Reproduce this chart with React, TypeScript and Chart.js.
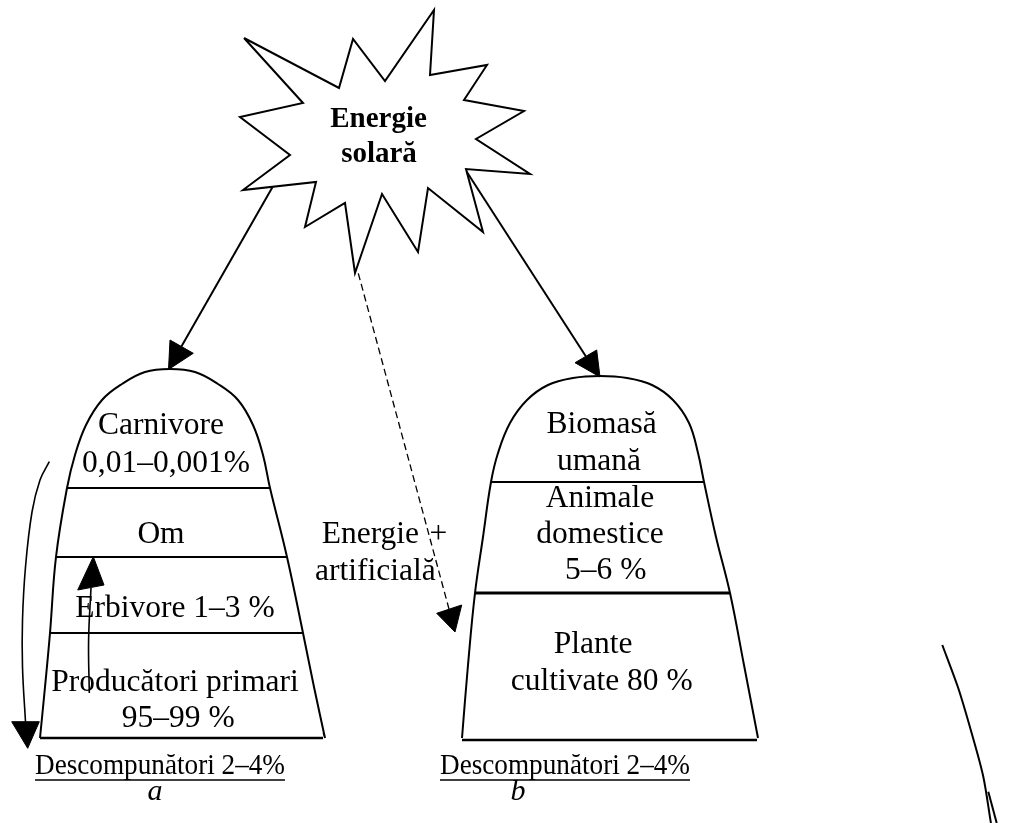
import React, { useEffect, useRef } from "react";
import { Chart, registerables } from "chart.js";

Chart.register(...registerables);

// ---------- data (diagram coordinates, y grows downward) ----------
const starX = [244, 339, 353, 385, 434, 430, 487, 464, 524, 476, 530, 466, 483, 428, 418, 382, 355, 345, 305, 316, 243, 290, 240, 303, 244];
const starY = [38, 88, 39, 81, 10, 75, 65, 100, 111, 139, 174, 169, 232, 188, 252, 194, 273, 203, 227, 182, 190, 155, 117, 103, 38];

const domeAX = [40, 45, 50, 56, 67, 75, 86, 102, 122, 145, 170, 195, 218, 238, 253, 263, 270, 287, 303, 314, 325];
const domeAY = [738, 687, 633, 557, 488, 455, 425, 400, 384, 372, 369, 372, 384, 400, 425, 455, 488, 557, 633, 687, 738];

const domeBX = [462, 468, 475, 483, 491, 498, 510, 527, 548, 573, 600, 627, 652, 673, 689, 698, 704, 716, 730, 744, 758];
const domeBY = [738, 665, 593, 537, 482, 453, 423, 400, 385, 378, 376, 378, 385, 400, 423, 453, 482, 537, 593, 665, 738];

// level separators: [x0, x1, y]
const levelsA = [[67, 270, 488], [56, 287, 557], [50, 303, 633], [40, 323, 738]];
const levelsB = [[491, 704, 482], [475, 730, 593], [462, 757, 740]];

// arrows: shaft points then head [tip, baseL, baseR]
const arrowLeftShaft = [[272.7, 186.7], [181.4, 346.5]];
const arrowLeftHead = [[168.5, 369.5], [170, 340], [193.3, 353.3]];
const arrowRightShaft = [[466.7, 171.7], [585.8, 356.3]];
const arrowRightHead = [[600, 377], [575, 362.7], [596.7, 350]];
const arrowDashShaft = [[358.3, 273.3], [449, 609]];
const arrowDashHead = [[455, 632], [436.7, 613.3], [461.7, 605]];
const arrowCycleShaft = [[49.3, 461.7], [40, 480], [32, 512], [25.5, 567], [22.5, 620], [22.5, 667], [25.5, 722]];
const arrowCycleHead = [[27.7, 748.3], [11.7, 721.7], [39.3, 721.7]];
const arrowUpShaft = [[89.3, 693], [88.6, 640], [91, 588]];
const arrowUpHead = [[93.3, 556.7], [77.7, 590], [104, 585]];

const strokeRight1 = [[942.3, 645], [958.3, 688.3], [971.7, 733.3], [983.3, 776.7], [990.7, 821.7], [991, 823]];
const strokeRight2 = [[988.3, 791.7], [996.7, 823]];
const cornerTick = [[323, 733], [325, 738]];

// texts
const sunLabels = ["Energie", "solară"];
const pyramidALabels = ["Carnivore", "0,01–0,001%", "Om", "Erbivore 1–3 %", "Producători primari", "95–99 %"];
const pyramidBLabels = ["Biomasă", "umană", "Animale", "domestice", "5–6 %", "Plante", "cultivate 80 %"];
const artificialLabels = ["Energie", "+", "artificială"];
const decomposerLabel = "Descompunători 2–4%";
const panelLabels = ["a", "b"];

// ---------- helpers ----------
const toPts = (a: number[][]) => a.map(([x, y]) => ({ x, y }));
const zipPts = (xs: number[], ys: number[]) => xs.map((x, i) => ({ x, y: ys[i] }));

const line = (data: any[], extra: any = {}) => ({
  data,
  showLine: true,
  borderColor: "#000",
  borderWidth: 2,
  pointRadius: 0,
  fill: false,
  tension: 0,
  clip: false,
  ...extra,
});
const head = (h: number[][]) =>
  line(toPts([...h, h[0]]), { fill: "shape", backgroundColor: "#000", borderWidth: 1 });

type Lbl = {
  text: string; x: number; y: number; size: number;
  weight?: string; style?: string; align?: CanvasTextAlign; underline?: boolean; maxWidth?: number;
};

const FONT = '"Liberation Serif", "Times New Roman", Times, serif';

const labelLayout: Lbl[] = [
  { text: sunLabels[0], x: 378.5, y: 126.7, size: 29, weight: "bold" },
  { text: sunLabels[1], x: 379, y: 161.5, size: 29, weight: "bold" },

  { text: pyramidALabels[0], x: 161, y: 434.3, size: 31.5 },
  { text: pyramidALabels[1], x: 166, y: 471.7, size: 31.5 },
  { text: pyramidALabels[2], x: 161, y: 542.7, size: 31.5 },
  { text: pyramidALabels[3], x: 175, y: 616.7, size: 31.5 },
  { text: pyramidALabels[4], x: 175, y: 690.7, size: 31.5 },
  { text: pyramidALabels[5], x: 178.3, y: 727.3, size: 31.5 },

  { text: pyramidBLabels[0], x: 601.7, y: 433.3, size: 31.5 },
  { text: pyramidBLabels[1], x: 599, y: 470, size: 31.5 },
  { text: pyramidBLabels[2], x: 600, y: 506.7, size: 31.5 },
  { text: pyramidBLabels[3], x: 600, y: 542.7, size: 31.5 },
  { text: pyramidBLabels[4], x: 605.7, y: 579.3, size: 31.5 },
  { text: pyramidBLabels[5], x: 593, y: 653.3, size: 31.5 },
  { text: pyramidBLabels[6], x: 601.7, y: 690, size: 31.5 },

  { text: artificialLabels[0], x: 321.7, y: 543.3, size: 31.5, align: "left" },
  { text: artificialLabels[1], x: 438.3, y: 543.3, size: 31.5 },
  { text: artificialLabels[2], x: 315, y: 580, size: 31.5, align: "left" },

  { text: decomposerLabel, x: 35, y: 774, size: 30, align: "left", underline: true, maxWidth: 250 },
  { text: decomposerLabel, x: 440, y: 774, size: 30, align: "left", underline: true, maxWidth: 250 },
  { text: panelLabels[0], x: 155, y: 800, size: 30, style: "italic" },
  { text: panelLabels[1], x: 518, y: 800, size: 30, style: "italic" },
];

const labelPlugin = {
  id: "diagramLabels",
  afterDatasetsDraw(chart: any) {
    const { ctx, scales } = chart;
    const sx = scales.x;
    const sy = scales.y;
    labelLayout.forEach((l) => {
      ctx.save();
      ctx.font = `${l.style || "normal"} ${l.weight || "normal"} ${l.size}px ${FONT}`;
      ctx.fillStyle = "#000";
      ctx.textAlign = l.align || "center";
      ctx.textBaseline = "alphabetic";
      const px = sx.getPixelForValue(l.x);
      const py = sy.getPixelForValue(l.y);
      if (l.maxWidth) ctx.fillText(l.text, px, py, l.maxWidth);
      else ctx.fillText(l.text, px, py);
      if (l.underline) {
        let w = ctx.measureText(l.text).width;
        if (l.maxWidth) w = Math.min(w, l.maxWidth);
        const x0 = l.align === "left" ? px : px - w / 2;
        ctx.strokeStyle = "#000";
        ctx.lineWidth = 1.6;
        ctx.beginPath();
        ctx.moveTo(x0, py + 6);
        ctx.lineTo(x0 + w, py + 6);
        ctx.stroke();
      }
      ctx.restore();
    });
  },
};

export default function App() {
  const ref = useRef<HTMLCanvasElement | null>(null);

  useEffect(() => {
    if (!ref.current) return;
    const levelDs = (lv: number[][], widths: number[]) =>
      lv.map(([x0, x1, y], i) => line(toPts([[x0, y], [x1, y]]), { borderWidth: widths[i] }));

    const datasets: any[] = [
      line(zipPts(starX, starY), { borderWidth: 2, borderJoinStyle: "miter" }),
      line(zipPts(domeAX, domeAY), { tension: 0.4, borderWidth: 2 }),
      line(zipPts(domeBX, domeBY), { tension: 0.4, borderWidth: 2 }),
      ...levelDs(levelsA, [2.2, 2.2, 2.2, 2.4]),
      ...levelDs(levelsB, [2.2, 3.2, 2.4]),
      line(toPts(arrowLeftShaft), { borderWidth: 2 }),
      head(arrowLeftHead),
      line(toPts(arrowRightShaft), { borderWidth: 2 }),
      head(arrowRightHead),
      line(toPts(arrowDashShaft), { borderWidth: 1.3, borderDash: [7, 4] }),
      head(arrowDashHead),
      line(toPts(arrowCycleShaft), { borderWidth: 1.6, tension: 0.4 }),
      head(arrowCycleHead),
      line(toPts(arrowUpShaft), { borderWidth: 1.6, tension: 0.4 }),
      head(arrowUpHead),
      line(toPts(strokeRight1), { borderWidth: 2, tension: 0.3 }),
      line(toPts(strokeRight2), { borderWidth: 2 }),
      line(toPts(cornerTick), { borderWidth: 1 }),
    ];

    const chart = new Chart(ref.current, {
      type: "scatter",
      data: { datasets },
      options: {
        animation: false,
        responsive: false,
        maintainAspectRatio: false,
        devicePixelRatio: 1,
        events: [],
        layout: { padding: 0 },
        plugins: { legend: { display: false }, tooltip: { enabled: false } },
        scales: {
          x: { type: "linear", display: false, min: 0, max: 1011 },
          y: { type: "linear", display: false, min: 0, max: 823, reverse: true },
        },
        elements: { point: { radius: 0 } },
      } as any,
      plugins: [labelPlugin],
    });
    return () => chart.destroy();
  }, []);

  return (
    <div style={{ position: "fixed", left: 0, top: 0, width: 1011, height: 823, background: "#fff" }}>
      <canvas ref={ref} width={1011} height={823} style={{ display: "block", width: 1011, height: 823 }} />
    </div>
  );
}
